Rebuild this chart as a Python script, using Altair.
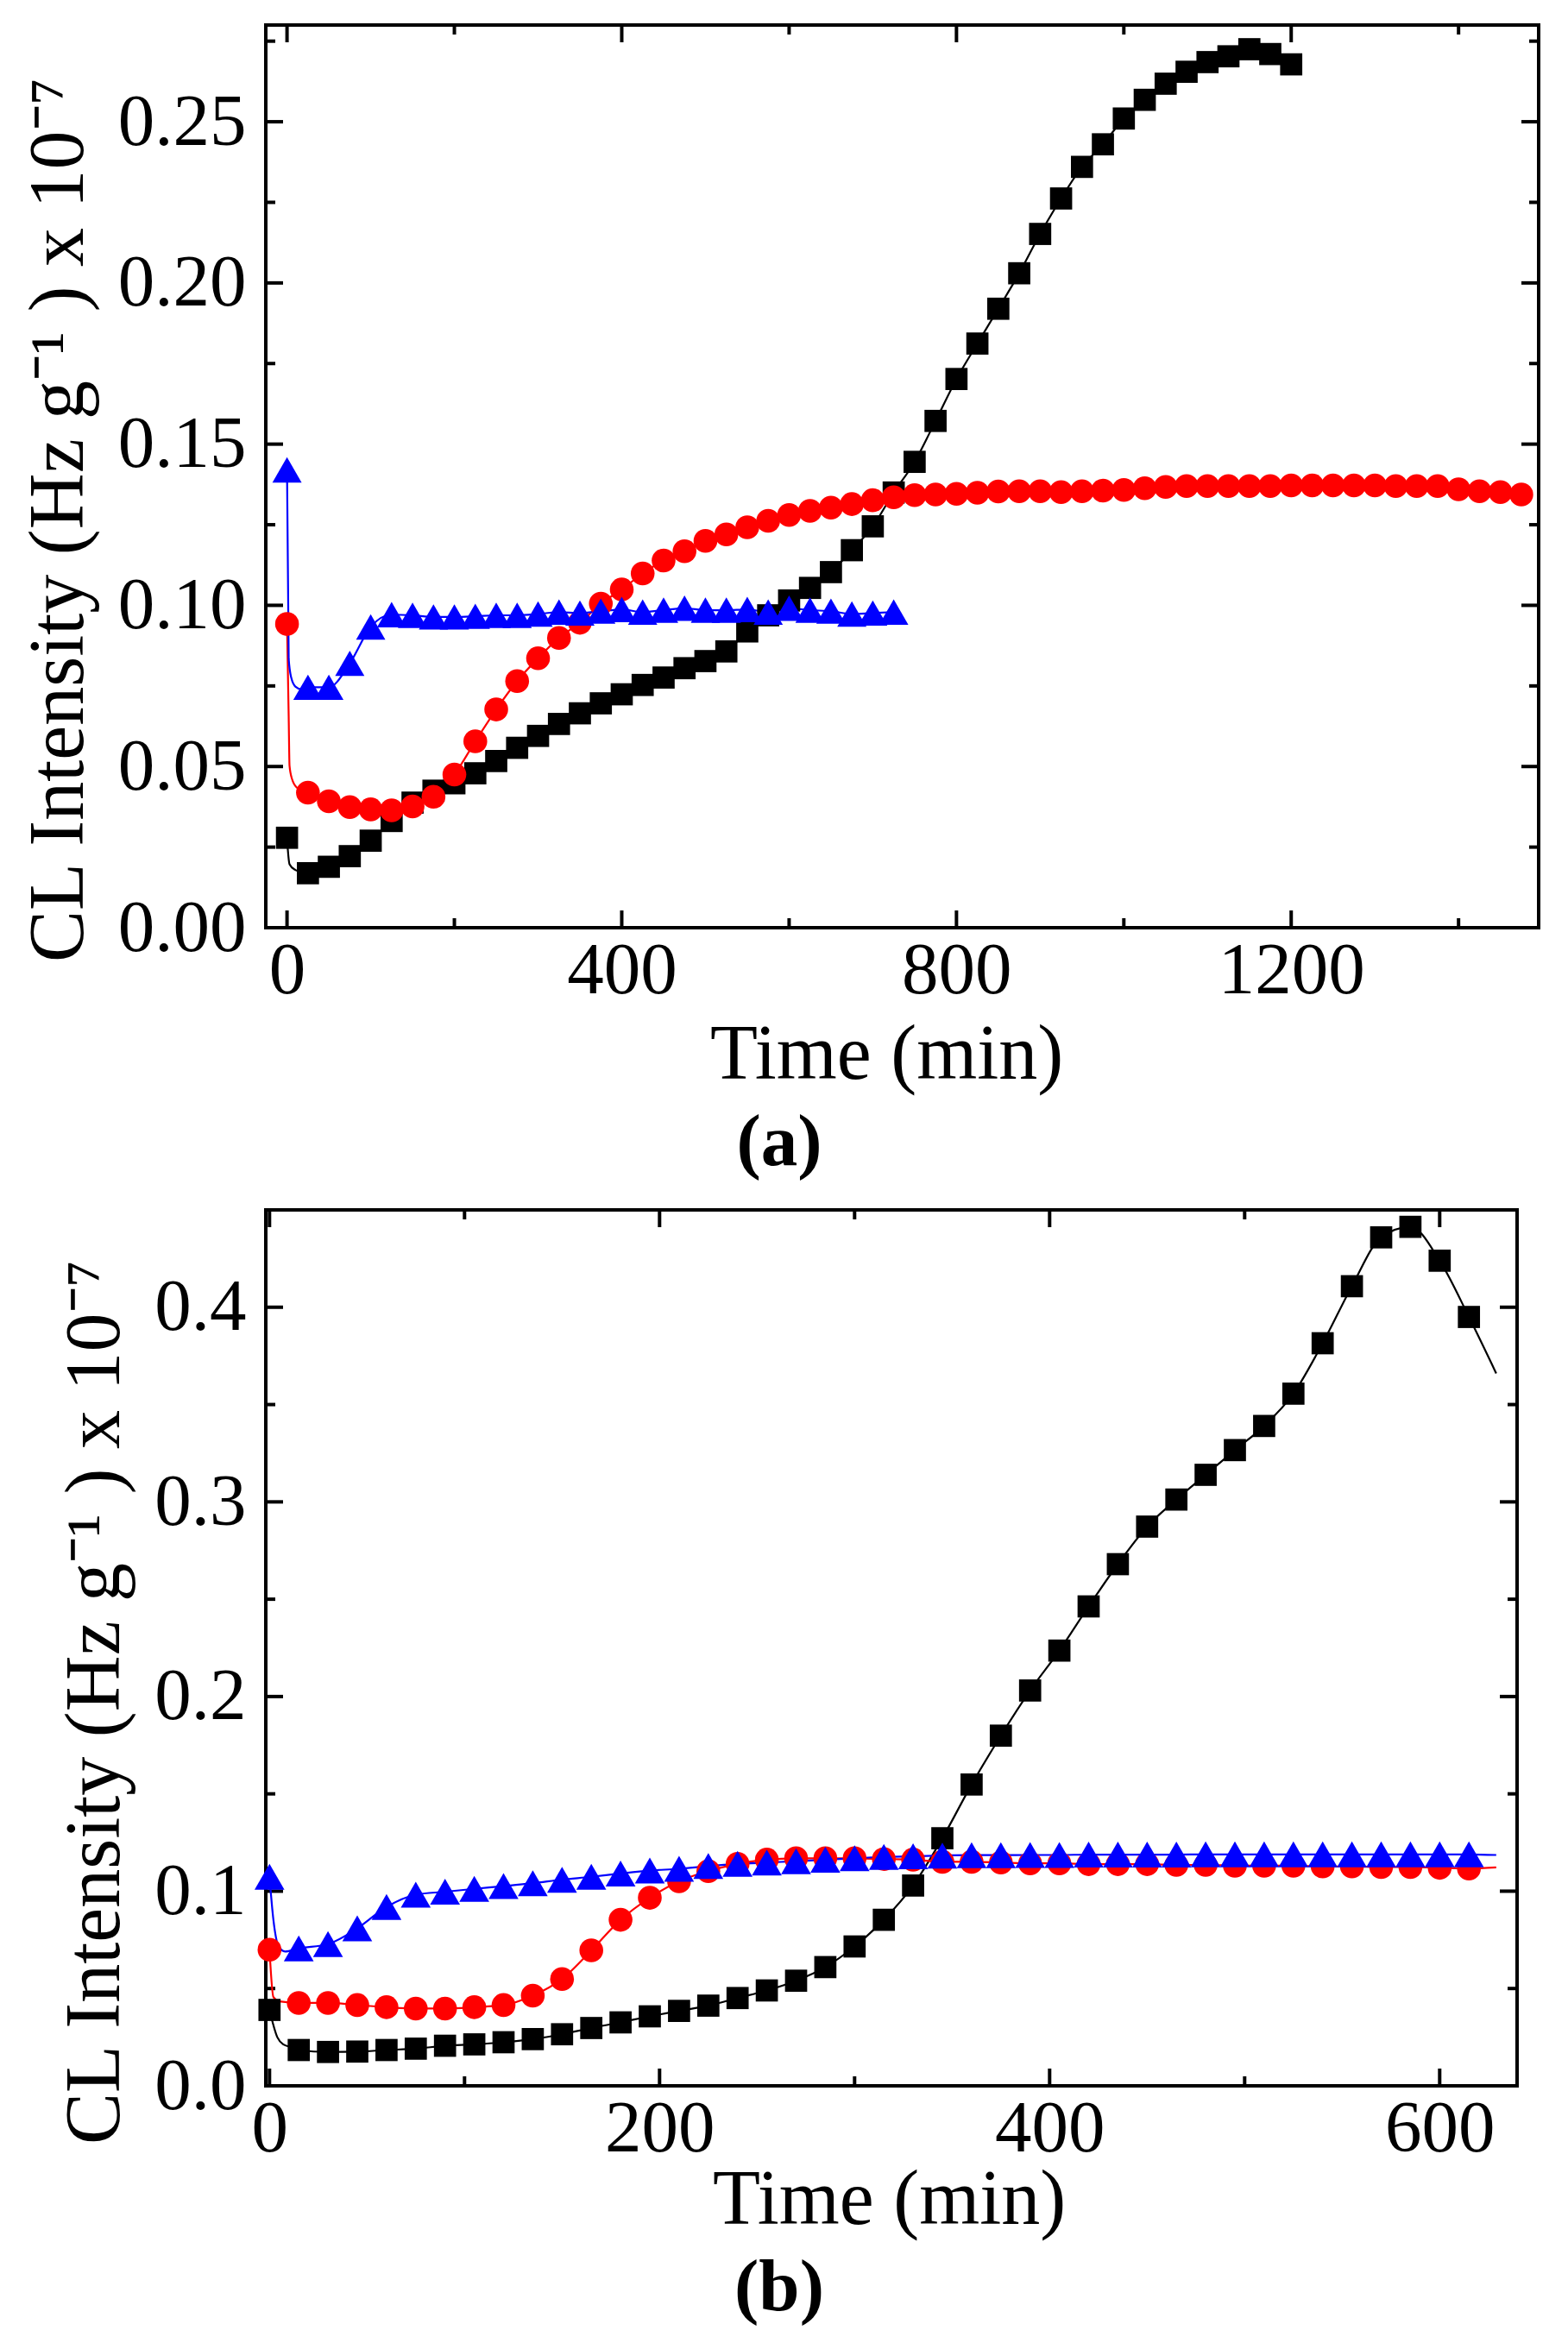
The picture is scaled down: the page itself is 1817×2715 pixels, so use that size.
import altair as alt
import pandas as pd

FONT = "Liberation Serif"

# ---------------- Panel (a) data ----------------
a_black_t = [0, 25, 50, 75, 100, 125, 150, 175, 200, 225, 250, 275, 300, 325, 350, 375, 400,
             425, 450, 475, 500, 525, 550, 575, 600, 625, 650, 675, 700, 725, 750, 775, 800,
             825, 850, 875, 900, 925, 950, 975, 1000, 1025, 1050, 1075, 1100, 1125, 1150, 1175, 1200]
a_black_v = [0.0279, 0.0169, 0.0189, 0.0222, 0.0270, 0.0331, 0.0388, 0.0425, 0.0448, 0.0479,
             0.0517, 0.0558, 0.0595, 0.0632, 0.0665, 0.0696, 0.0724, 0.0753, 0.0776, 0.0805,
             0.0827, 0.0857, 0.0919, 0.0969, 0.1015, 0.1054, 0.1103, 0.1171, 0.1245, 0.1350,
             0.1445, 0.1572, 0.1702, 0.1812, 0.1920, 0.2030, 0.2152, 0.2262, 0.2360, 0.2430,
             0.2510, 0.2568, 0.2618, 0.2655, 0.2685, 0.2703, 0.2725, 0.2710, 0.2678]
a_black_fit_t = [1, 3, 10, 15]
a_black_fit_v = [0.0241, 0.0197, 0.0179, 0.0174]

a_red_t = [0, 25, 50, 75, 100, 125, 150, 175, 200, 225, 250, 275, 300, 325, 350, 375, 400,
           425, 450, 475, 500, 525, 550, 575, 600, 625, 650, 675, 700, 725, 750, 775, 800,
           825, 850, 875, 900, 925, 950, 975, 1000, 1025, 1050, 1075, 1100, 1125, 1150, 1175,
           1200, 1225, 1250, 1275, 1300, 1325, 1350, 1375, 1400, 1425, 1450, 1475]
a_red_v = [0.0942, 0.0419, 0.0392, 0.0374, 0.0367, 0.0364, 0.0376, 0.0406, 0.0475, 0.0578,
           0.0677, 0.0765, 0.0836, 0.0899, 0.0946, 0.1005, 0.1049, 0.1099, 0.1139, 0.1168,
           0.1200, 0.1220, 0.1242, 0.1262, 0.1280, 0.1293, 0.1303, 0.1314, 0.1326, 0.1335,
           0.1342, 0.1344, 0.1346, 0.1349, 0.1353, 0.1354, 0.1354, 0.1351, 0.1354, 0.1356,
           0.1358, 0.1363, 0.1367, 0.1370, 0.1370, 0.1370, 0.1370, 0.1370, 0.1372, 0.1372,
           0.1372, 0.1372, 0.1372, 0.1370, 0.1370, 0.1370, 0.1360, 0.1354, 0.1351, 0.1344]
a_red_fit_t = [2, 3, 6, 12]
a_red_fit_v = [0.0654, 0.0502, 0.0461, 0.0434]

a_blue_t = [0, 25, 50, 75, 100, 125, 150, 175, 200, 225, 250, 275, 300, 325, 350, 375, 400,
            425, 450, 475, 500, 525, 550, 575, 600, 625, 650, 675, 700, 725]
a_blue_v = [0.1420, 0.0746, 0.0746, 0.0820, 0.0933, 0.0971, 0.0969, 0.0964, 0.0964, 0.0966,
            0.0969, 0.0969, 0.0973, 0.0979, 0.0976, 0.0982, 0.0987, 0.0979, 0.0985, 0.0991,
            0.0985, 0.0985, 0.0987, 0.0979, 0.0991, 0.0985, 0.0982, 0.0973, 0.0976, 0.0979]
a_blue_fit_t = [2, 5, 10, 17]
a_blue_fit_v = [0.0834, 0.0776, 0.0748, 0.0740]

# ---------------- Panel (b) data ----------------
b_t = [0, 15, 30, 45, 60, 75, 90, 105, 120, 135, 150, 165, 180, 195, 210, 225, 240, 255,
       270, 285, 300, 315, 330, 345, 360, 375, 390, 405, 420, 435, 450, 465, 480, 495, 510,
       525, 540, 555, 570, 585, 600, 615]
b_black_v = [0.0390, 0.0184, 0.0174, 0.0176, 0.0184, 0.0191, 0.0206, 0.0213, 0.0224, 0.0240,
             0.0265, 0.0297, 0.0326, 0.0357, 0.0385, 0.0412, 0.0451, 0.0490, 0.0540, 0.0610,
             0.0716, 0.0853, 0.1029, 0.1272, 0.1548, 0.1799, 0.2031, 0.2236, 0.2463, 0.2680,
             0.2873, 0.3012, 0.3139, 0.3266, 0.3390, 0.3556, 0.3815, 0.4108, 0.4359, 0.4413,
             0.4239, 0.3950]
b_black_fit_t = [4, 7, 11, 629]
b_black_fit_v = [0.0250, 0.0213, 0.0199, 0.3660]

b_red_v = [0.0699, 0.0426, 0.0426, 0.0415, 0.0404, 0.0397, 0.0397, 0.0404, 0.0415, 0.0463,
           0.0549, 0.0696, 0.0853, 0.0966, 0.1051, 0.1103, 0.1140, 0.1162, 0.1169, 0.1169,
           0.1169, 0.1165, 0.1162, 0.1151, 0.1151, 0.1147, 0.1143, 0.1143, 0.1139, 0.1139,
           0.1139, 0.1135, 0.1135, 0.1131, 0.1131, 0.1131, 0.1127, 0.1127, 0.1124, 0.1124,
           0.1120, 0.1116]
b_red_fit_t = [2, 5, 629]
b_red_fit_v = [0.0456, 0.0434, 0.1122]

b_blue_v = [0.1074, 0.0706, 0.0728, 0.0809, 0.0919, 0.0982, 0.0997, 0.1012, 0.1026, 0.1041,
            0.1059, 0.1074, 0.1091, 0.1106, 0.1115, 0.1129, 0.1140, 0.1147, 0.1154, 0.1162,
            0.1169, 0.1176, 0.1179, 0.1183, 0.1185, 0.1185, 0.1186, 0.1186, 0.1188, 0.1188,
            0.1188, 0.1188, 0.1189, 0.1189, 0.1189, 0.1189, 0.1189, 0.1189, 0.1189, 0.1189,
            0.1189, 0.1189]
b_blue_fit_t = [2, 4.5, 8, 629]
b_blue_fit_v = [0.0853, 0.0721, 0.0690, 0.1186]

# ---------------- axes ticks ----------------
a_x_major = [0, 400, 800, 1200]
a_x_minor = [200, 600, 1000, 1400]
a_y_major = [0.0, 0.05, 0.10, 0.15, 0.20, 0.25]
a_y_minor = [0.025, 0.075, 0.125, 0.175, 0.225, 0.275]
b_x_major = [0, 200, 400, 600]
b_x_minor = [100, 300, 500]
b_y_major = [0.0, 0.1, 0.2, 0.3, 0.4]
b_y_minor = [0.05, 0.15, 0.25, 0.35]

Y_TITLE = "CL Intensity (Hz g\u207B\u00B9 ) x 10\u207B\u2077"


def fit_df(mt, mv, ft, fv):
    df = pd.DataFrame({"t": list(mt) + list(ft), "v": list(mv) + list(fv)})
    return df.sort_values("t").reset_index(drop=True)


def panel(cfg):
    W, H = cfg["W"], cfg["H"]
    xs = alt.Scale(domain=cfg["xdom"], nice=False, zero=False)
    ys = alt.Scale(domain=cfg["ydom"], nice=False, zero=False)
    xaxis = alt.Axis(values=cfg["xmaj"], format="d", ticks=False, domain=False, grid=False,
                     labelFont=FONT, labelFontSize=85, labelColor="black", labelPadding=8,
                     labelFlush=False, labelOverlap=False,
                     title="Time (min)", titleFont=FONT, titleFontSize=90,
                     titleFontWeight="normal", titleColor="black",
                     titleX=cfg["xtitleX"], titleY=cfg["xtitleY"],
                     titleBaseline="alphabetic", titleAlign="center")
    yaxis = alt.Axis(values=cfg["ymaj"], format=cfg["yfmt"], ticks=False, domain=False, grid=False,
                     labelFont=FONT, labelFontSize=85, labelColor="black", labelPadding=23,
                     labelFlush=False, labelOverlap=False,
                     title=Y_TITLE, titleFont=FONT, titleFontSize=90,
                     titleFontWeight="normal", titleColor="black",
                     titleX=cfg["ytitleX"], titleY=cfg["ytitleY"], titleAngle=270,
                     titleBaseline="alphabetic", titleAlign="center")
    X = lambda: alt.X("t:Q", scale=xs, axis=xaxis)
    Y = lambda: alt.Y("v:Q", scale=ys, axis=yaxis)

    layers = []
    # inward ticks on all four sides
    for vals, L in ((cfg["xmaj"], 20), (cfg["xmin"], 11)):
        df = pd.DataFrame({"t": vals})
        layers.append(alt.Chart(df).mark_rule(color="black", strokeWidth=4).encode(
            x=X(), y=alt.value(H), y2=alt.value(H - L)))
        layers.append(alt.Chart(df).mark_rule(color="black", strokeWidth=4).encode(
            x=X(), y=alt.value(0), y2=alt.value(L)))
    for vals, L in ((cfg["ymaj"], 20), (cfg["ymin"], 11)):
        df = pd.DataFrame({"v": vals})
        layers.append(alt.Chart(df).mark_rule(color="black", strokeWidth=4).encode(
            y=Y(), x=alt.value(0), x2=alt.value(L)))
        layers.append(alt.Chart(df).mark_rule(color="black", strokeWidth=4).encode(
            y=Y(), x=alt.value(W), x2=alt.value(W - L)))

    colors = {"black": "#000000", "red": "#FF0000", "blue": "#0000FF"}
    shapes = {"black": "square", "red": "circle", "blue": "triangle-up"}
    for name in ("black", "red", "blue"):
        mt, mv, ft, fv = cfg["series"][name]
        layers.append(alt.Chart(fit_df(mt, mv, ft, fv)).mark_line(
            color=colors[name], strokeWidth=2.2, interpolate="monotone").encode(
            x=X(), y=Y(), order="t:Q"))
    for name in ("black", "red", "blue"):
        mt, mv, ft, fv = cfg["series"][name]
        df = pd.DataFrame({"t": mt, "v": mv})
        layers.append(alt.Chart(df).mark_point(
            filled=True, shape=shapes[name], size=cfg["sizes"][name],
            color=colors[name], opacity=1).encode(x=X(), y=Y()))

    return alt.layer(*layers).properties(
        width=W, height=H,
        title=alt.TitleParams(cfg["label"], orient="bottom", anchor="middle", dx=cfg["labeldx"],
                              offset=cfg["labeloffset"], font=FONT, fontSize=85,
                              fontWeight="bold", color="black"))


LEFT = 308
panel_a = panel({
    "W": 1783 - LEFT, "H": 1046,
    "xdom": [(LEFT - 332.6) / 0.9697, (1783 - 332.6) / 0.9697], "ydom": [0, 0.28],
    "xmaj": a_x_major, "xmin": a_x_minor, "ymaj": a_y_major, "ymin": a_y_minor,
    "yfmt": ".2f",
    "xtitleX": 1027 - LEFT, "xtitleY": 174,
    "ytitleX": 95 - LEFT, "ytitleY": 573,
    "series": {"black": (a_black_t, a_black_v, a_black_fit_t, a_black_fit_v),
               "red": (a_red_t, a_red_v, a_red_fit_t, a_red_fit_v),
               "blue": (a_blue_t, a_blue_v, a_blue_fit_t, a_blue_fit_v)},
    "sizes": {"black": 660, "red": 760, "blue": 1150},
    "label": "(a)", "labeldx": 903 - (LEFT + 1783) / 2, "labeloffset": 16,
})
panel_b = panel({
    "W": 1758 - LEFT, "H": 1015,
    "xdom": [(LEFT - 312.3) / 2.26, (1758 - 312.3) / 2.26], "ydom": [0, 0.45],
    "xmaj": b_x_major, "xmin": b_x_minor, "ymaj": b_y_major, "ymin": b_y_minor,
    "yfmt": ".1f",
    "xtitleX": 1030 - LEFT, "xtitleY": 159,
    "ytitleX": 137 - LEFT, "ytitleY": 570,
    "series": {"black": (b_t, b_black_v, b_black_fit_t, b_black_fit_v),
               "red": (b_t, b_red_v, b_red_fit_t, b_red_fit_v),
               "blue": (b_t, b_blue_v, b_blue_fit_t, b_blue_fit_v)},
    "sizes": {"black": 660, "red": 760, "blue": 1200},
    "label": "(b)", "labeldx": 903 - (LEFT + 1758) / 2, "labeloffset": 16,
})

chart = alt.vconcat(panel_a, panel_b, spacing=29).properties(
    padding={"left": 20, "top": 25, "right": 0, "bottom": 0}
).configure(background="white").configure_view(stroke="black", strokeWidth=4)

chart.save("out.html", embed_options={"renderer": "svg", "actions": False})
